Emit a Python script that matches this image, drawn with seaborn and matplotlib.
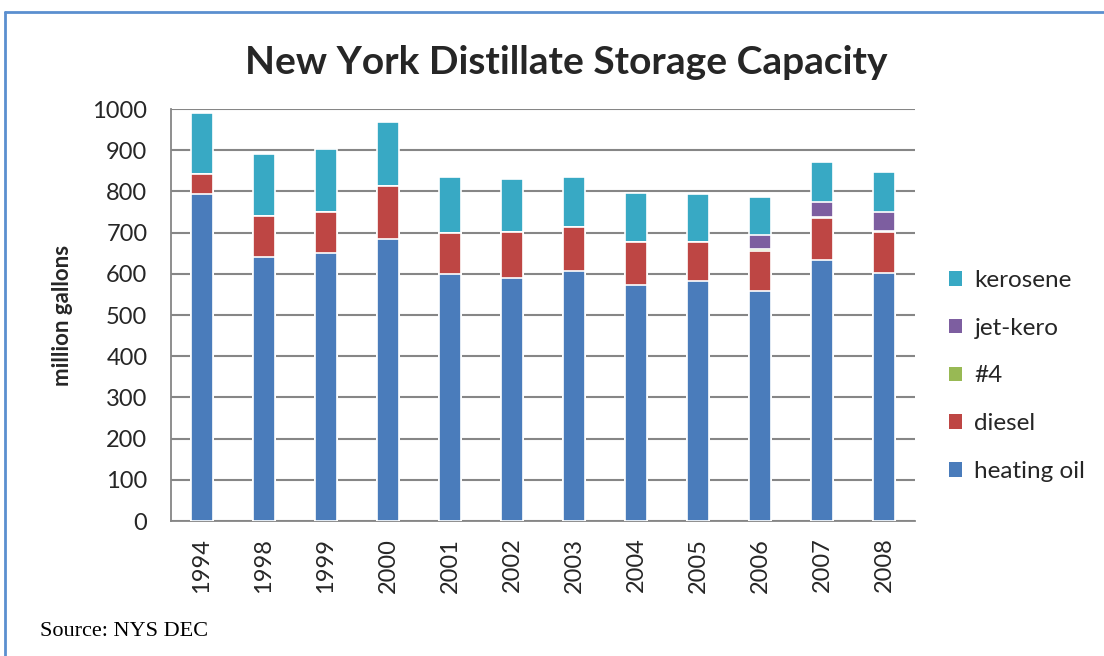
import numpy as np
import pandas as pd
import matplotlib
matplotlib.use("Agg")
import matplotlib.pyplot as plt
import seaborn as sns
from matplotlib.patches import Patch
from matplotlib.lines import Line2D

years = ["1994", "1998", "1999", "2000", "2001", "2002", "2003", "2004", "2005", "2006", "2007", "2008"]
heating_oil = [793, 641, 650, 685, 600, 590, 607, 572, 583, 558, 633, 603]
diesel      = [50, 100, 101, 128, 100, 111, 107, 104, 94, 98, 102, 98]
no4         = [0, 0, 0, 0, 0, 0, 0, 0, 0, 5, 4, 4]
jet_kero    = [0, 0, 0, 0, 0, 0, 0, 0, 0, 32, 35, 46]
kerosene    = [148, 150, 153, 155, 134, 128, 120, 121, 117, 94, 98, 95]

series_names = ["heating oil", "diesel", "#4", "jet-kero", "kerosene"]
series_vals = [heating_oil, diesel, no4, jet_kero, kerosene]
colors = {"heating oil": "#4a7cbb", "diesel": "#be4644", "#4": "#98b954",
          "jet-kero": "#7d5ea0", "kerosene": "#38a9c4"}

df = pd.DataFrame({"year": years})
cum = np.zeros(len(years))
for n, v in zip(series_names, series_vals):
    cum = cum + np.array(v, dtype=float)
    df[n] = cum

sns.set_theme(style="white")
plt.rcParams["font.family"] = ["Lato", "DejaVu Sans"]

fig = plt.figure(figsize=(11.04, 6.56), dpi=100)
ax = fig.add_axes([171/1104, 1 - 521/656, (915 - 171)/1104, (521 - 109)/656])

# Draw from the top layer (cumulative) downward so each overlays the previous
for n in reversed(series_names):
    sns.barplot(data=df, x="year", y=n, ax=ax, color=colors[n], width=0.37,
                edgecolor="white", linewidth=1.2, saturation=1, order=years, zorder=3)

ax.set_ylim(0, 1000)
ax.set_xlim(-0.5, len(years) - 0.5)
ax.set_yticks(np.arange(0, 1001, 100))
ax.yaxis.grid(True, color="#868686", linewidth=1.5, zorder=0)
ax.set_axisbelow(True)
for s in ["top", "right"]:
    ax.spines[s].set_visible(False)
for s in ["left", "bottom"]:
    ax.spines[s].set_color("#868686")
    ax.spines[s].set_linewidth(1.3)

ax.set_xticks(np.arange(-0.5, len(years), 1.0), minor=False)
ax.set_xticklabels([""] * (len(years) + 1))
ax.set_xticks(np.arange(len(years)), minor=True)
ax.set_xticklabels(years, minor=True, rotation=90, fontsize=17)
ax.tick_params(axis="x", which="major", length=7, width=1.3, color="#868686", direction="out")
ax.tick_params(axis="x", which="minor", length=0, pad=12)
ax.tick_params(axis="y", length=9, width=1.3, color="#868686", direction="out", labelsize=17, pad=8)
ax.set_xlabel("")
ax.set_ylabel("million gallons", fontsize=16, fontweight="bold", labelpad=14)

fig.text(0.513, 1 - 62/656, "New York Distillate Storage Capacity", ha="center", va="center",
         fontsize=28, fontweight="bold")

handles = [Patch(facecolor=colors[n], edgecolor="none") for n in reversed(series_names)]
leg = fig.legend(handles, list(reversed(series_names)), loc="center left",
                 bbox_to_anchor=(927/1104, 1 - 376/656), frameon=False, fontsize=17.5,
                 handlelength=0.55, handleheight=0.55, labelspacing=1.1, handletextpad=0.5)

fig.text(40/1104, 1 - 632/656, "Source: NYS DEC", ha="left", va="center",
         fontsize=16, color="black", family=["Liberation Serif", "DejaVu Serif"])

# Outer border
fig.add_artist(Line2D([5/1104, 5/1104], [0, 1 - 12/656], transform=fig.transFigure,
                      color="#5b8fcf", linewidth=2))
fig.add_artist(Line2D([5/1104, 1.0], [1 - 12/656, 1 - 12/656], transform=fig.transFigure,
                      color="#5b8fcf", linewidth=2))

fig.savefig("out.png", dpi=100)
